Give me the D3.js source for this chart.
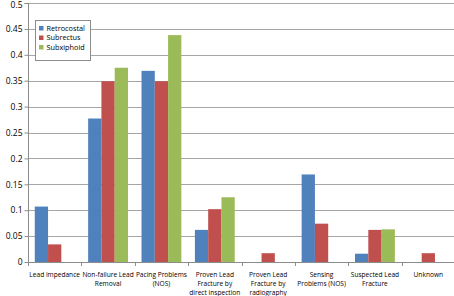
<!DOCTYPE html>
<html><head><meta charset="utf-8">
<script src="https://cdn.jsdelivr.net/npm/d3@7"></script>
<style>body{margin:0;background:#fff}svg{display:block}</style>
</head><body>
<svg id="c" width="454" height="296"></svg>
<script>
const categories = [
  ["Lead impedance"],
  ["Non-failure Lead","Removal"],
  ["Pacing Problems","(NOS)"],
  ["Proven Lead","Fracture by","direct inspection"],
  ["Proven Lead","Fracture by","radiography"],
  ["Sensing","Problems (NOS)"],
  ["Suspected Lead","Fracture"],
  ["Unknown"]
];
const seriesNames = ["Retrocostal","Subrectus","Subxiphoid"];
const retrocostal = [0.107,0.277,0.369,0.062,0,0.169,0.016,0];
const subrectus   = [0.034,0.349,0.349,0.102,0.017,0.074,0.062,0.017];
const subxiphoid  = [0,0.375,0.438,0.125,0,0,0.063,0];
const yTicks = [0,0.05,0.1,0.15,0.2,0.25,0.3,0.35,0.4,0.45,0.5];
const colors = ["#4F81BD","#C0504D","#9BBB59"];
const series = [retrocostal, subrectus, subxiphoid];

(function(){
const svg = d3.select("#c");
const mLeft = 28, mRight = 455, mTop = 3, mBottom = 262;
const y = d3.scaleLinear().domain([0,0.5]).range([mBottom, mTop]);
const x = d3.scaleBand().domain(d3.range(categories.length)).range([mLeft, mRight]).paddingInner(0).paddingOuter(0);
const inner = d3.scaleBand().domain(d3.range(3)).range([0, x.bandwidth()]).paddingOuter(0.51).paddingInner(0);

svg.append("g").selectAll("line").data(yTicks.filter(d=>d>0)).join("line")
  .attr("x1", mLeft).attr("x2", mRight).attr("y1", d=>Math.round(y(d))+0.5).attr("y2", d=>Math.round(y(d))+0.5)
  .attr("stroke","#a6a6a6").attr("stroke-width",1);

const yAxis = d3.axisLeft(y).tickValues(yTicks).tickSize(4).tickFormat(d=>String(+d.toFixed(2)));
const gy = svg.append("g").attr("transform",`translate(${mLeft+0.5},0)`).call(yAxis);
gy.select(".domain").attr("stroke","#8c8c8c").attr("d",`M-4,${Math.round(y(0.5))+0.5}H0V${mBottom+0.5}`);
gy.selectAll(".tick line").attr("stroke","#8c8c8c");
gy.selectAll(".tick text").attr("font-family","Open Sans, Liberation Sans, sans-serif").attr("font-size","8.5px").attr("fill","#000").attr("x",-6)
  .attr("dy", d => d === 0.5 ? "0.55em" : "0.32em");

series.forEach((vals, si) => {
  svg.append("g").selectAll("rect").data(vals.map((v,i)=>({v,i})).filter(d=>d.v>0)).join("rect")
    .attr("x", d=>x(d.i)+inner(si))
    .attr("width", inner.bandwidth())
    .attr("y", d=>y(d.v))
    .attr("height", d=>y(0)-y(d.v))
    .attr("fill", colors[si]);
});

const xAxis = d3.axisBottom(x).tickSize(0).tickFormat("");
const gx = svg.append("g").attr("transform",`translate(0,${mBottom+0.5})`).call(xAxis);
gx.select(".domain").attr("stroke","#8c8c8c").attr("d",`M${mLeft},0H${mRight}`);
svg.append("g").selectAll("line").data(d3.range(categories.length+1)).join("line")
  .attr("x1", i=> Math.round(mLeft + i*x.bandwidth())+0.5).attr("x2", i=> Math.round(mLeft + i*x.bandwidth())+0.5)
  .attr("y1", mBottom).attr("y2", mBottom+4).attr("stroke","#8c8c8c");

categories.forEach((lines, i) => {
  const t = svg.append("text").attr("text-anchor","middle")
    .attr("font-family","Open Sans, Liberation Sans, sans-serif").attr("font-size","6.6px").attr("fill","#000");
  lines.forEach((ln, k) => {
    t.append("tspan").attr("x", x(i)+x.bandwidth()/2).attr("y", 276.5 + k*9.3).text(ln);
  });
});

const lg = svg.append("g");
lg.append("rect").attr("x",35.5).attr("y",20.5).attr("width",55).attr("height",40)
  .attr("fill","#fff").attr("stroke","#8c8c8c");
seriesNames.forEach((n, i) => {
  lg.append("rect").attr("x",39).attr("y",26+i*9.5).attr("width",4.5).attr("height",4.5).attr("fill",colors[i]);
  lg.append("text").attr("x",46.5).attr("y",30.8+i*9.5).text(n)
    .attr("font-family","Open Sans, Liberation Sans, sans-serif").attr("font-size","7.3px").attr("fill","#000");
});
})();
</script>
</body></html>
